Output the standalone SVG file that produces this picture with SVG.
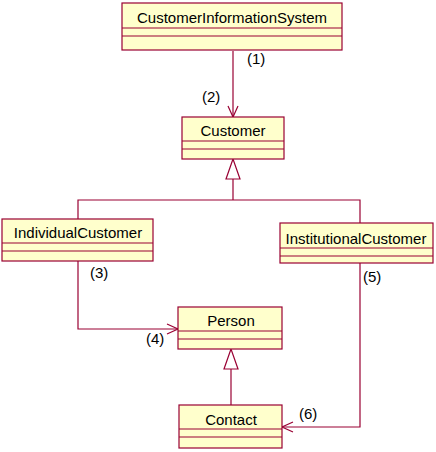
<svg xmlns="http://www.w3.org/2000/svg" width="436" height="452" viewBox="0 0 436 452">
<style>
.box{fill:#FFFFCC;stroke:#990033;stroke-width:1.2}
.div{stroke:#990033;stroke-width:1.2;fill:none}
.ln{stroke:#990033;stroke-width:1.2;fill:none}
.nm{font-family:"Liberation Sans",Arial,sans-serif;font-size:15px;fill:#000;text-anchor:middle}
.lb{font-family:"Liberation Sans",Arial,sans-serif;font-size:15px;fill:#000}
</style>
<rect width="436" height="452" fill="#fff"/>
<g id="connectors">
  <path class="ln" d="M233,51 V117"/>
  <path class="ln" d="M228,106 L233,117 L238,106"/>
  <path class="ln" d="M233,179 V200 M78,219 V200 H360 V223"/>
  <polygon class="ln" fill="#fff" points="233,159 226,179 240,179"/>
  <path class="ln" d="M78,261 V329 H178"/>
  <path class="ln" d="M167,324 L178,329 L167,334"/>
  <path class="ln" d="M231,369 V405"/>
  <polygon class="ln" fill="#fff" points="231,349 224,369 238,369"/>
  <path class="ln" d="M360,263 V427 H282"/>
  <path class="ln" d="M293,422 L282,427 L293,432"/>
  <text class="lb" x="247" y="64">(1)</text>
  <text class="lb" x="202" y="102">(2)</text>
  <text class="lb" x="90" y="278">(3)</text>
  <text class="lb" x="146" y="344">(4)</text>
  <text class="lb" x="363" y="282">(5)</text>
  <text class="lb" x="299" y="419">(6)</text>
</g>
<g id="CustomerInformationSystem">
  <rect class="box" x="122" y="3" width="220" height="47"/>
  <path class="div" d="M122,28 H342 M122,36 H342"/>
  <text class="nm" x="232" y="23">CustomerInformationSystem</text>
</g>
<g id="Customer">
  <rect class="box" x="182" y="117" width="102" height="42"/>
  <path class="div" d="M182,141 H284 M182,149 H284"/>
  <text class="nm" x="233" y="136">Customer</text>
</g>
<g id="IndividualCustomer">
  <rect class="box" x="2" y="219" width="151" height="42"/>
  <path class="div" d="M2,243 H153 M2,251 H153"/>
  <text class="nm" x="78" y="238">IndividualCustomer</text>
</g>
<g id="InstitutionalCustomer">
  <rect class="box" x="280" y="223" width="153" height="40"/>
  <path class="div" d="M280,248 H433 M280,256 H433"/>
  <text class="nm" x="356" y="244">InstitutionalCustomer</text>
</g>
<g id="Person">
  <rect class="box" x="178" y="307" width="104" height="42"/>
  <path class="div" d="M178,331 H282 M178,339 H282"/>
  <text class="nm" x="231" y="326">Person</text>
</g>
<g id="Contact">
  <rect class="box" x="179" y="405" width="103" height="43"/>
  <path class="div" d="M179,429 H282 M179,437 H282"/>
  <text class="nm" x="231" y="425">Contact</text>
</g>
</svg>
